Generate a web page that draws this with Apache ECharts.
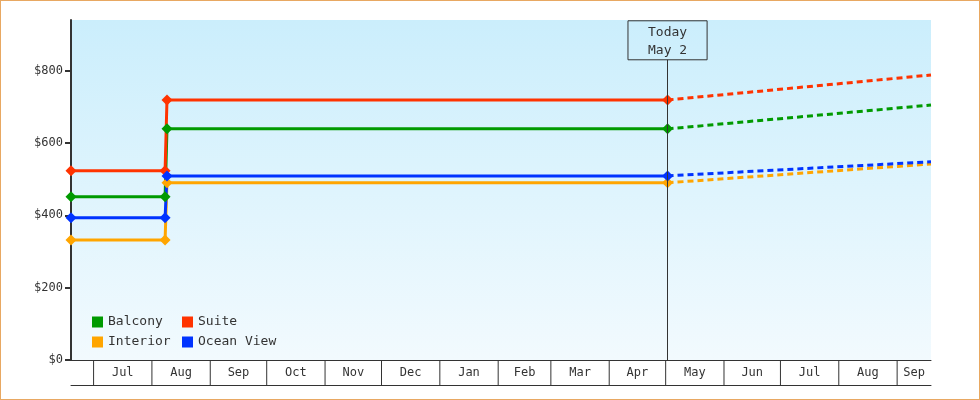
<!DOCTYPE html>
<html>
<head>
<meta charset="utf-8">
<script src="https://cdn.jsdelivr.net/npm/echarts@6/dist/echarts.min.js"></script>
<style>
  html, body { margin: 0; padding: 0; background: #fff; }
  #frame { width: 980px; height: 400px; box-sizing: border-box; border: 1px solid #e8a862; }
  #chart { width: 978px; height: 398px; }
</style>
</head>
<body>
<div id="frame"><div id="chart"></div></div>
<script>
// price history (step changes) and forecast
let dates = ["2024-06-19", "2024-08-08", "2024-08-09", "2025-05-02"];
let balcony = [451, 451, 639, 639];
let interior = [332, 332, 490, 490];
let suite = [523, 523, 719, 719];
let oceanView = [393, 393, 509, 509];

let forecastDates = ["2025-05-02", "2025-09-19"];
let balconyForecast = [639, 705];
let interiorForecast = [490, 542];
let suiteForecast = [719, 788];
let oceanViewForecast = [509, 548];

let today = "2025-05-02";
let todayLabel = "Today\nMay 2";
let axisStart = "2024-06-19";
let axisEnd = "2025-09-19";
let monthLabels = ["Jul", "Aug", "Sep", "Oct", "Nov", "Dec", "Jan", "Feb", "Mar", "Apr", "May", "Jun", "Jul", "Aug", "Sep"];
let yTicks = [0, 200, 400, 600, 800];

let font = "DejaVu Sans Mono";
let colors = {Balcony: "#009a00", Interior: "#ffa500", Suite: "#ff3300", "Ocean View": "#0033ff"};

function ts(s){
    let p = s.split("-");
    return new Date(+p[0], +p[1] - 1, +p[2]).getTime();
}
function pairs(xs, ys){
    return xs.map((d, i) => [ts(d), ys[i]]);
}

let minT = ts(axisStart), maxT = ts(axisEnd);
// month cells under the x axis: [start, end, y, label index]
let monthCells = monthLabels.map((m, i) => [
    new Date(2024, 6 + i, 1).getTime(),
    Math.min(new Date(2024, 7 + i, 1).getTime(), maxT),
    0,
    i
]);

let myChar = echarts.init(document.getElementById("chart"));

function actual(name, ys){
    return {
        name: name,
        type: "line",
        data: pairs(dates, ys),
        color: colors[name],
        symbol: "diamond",
        symbolSize: 11,
        lineStyle: {width: 3},
        z: 3
    };
}
function forecast(name, ys){
    return {
        name: name,
        type: "line",
        data: pairs(forecastDates, ys),
        color: colors[name],
        showSymbol: false,
        lineStyle: {width: 3, type: [6, 4]},
        z: 2
    };
}

let seriesList = [
    actual("Balcony", balcony),
    actual("Interior", interior),
    actual("Suite", suite),
    actual("Ocean View", oceanView),
    forecast("Balcony", balconyForecast),
    forecast("Interior", interiorForecast),
    forecast("Suite", suiteForecast),
    forecast("Ocean View", oceanViewForecast)
];
seriesList[0].markLine = {
    silent: true,
    symbol: "none",
    lineStyle: {color: "#333", width: 1, type: "solid"},
    label: {
        show: true,
        position: "end",
        distance: 0,
        formatter: todayLabel,
        color: "#333",
        fontFamily: font,
        fontSize: 13,
        lineHeight: 18,
        padding: [3, 20, 0, 20],
        borderColor: "#333",
        borderWidth: 1
    },
    data: [[{coord: [ts(today), 0]}, {coord: [ts(today), 830]}]]
};

// month separators and labels in the band below the plot
seriesList.push({
    type: "custom",
    silent: true,
    clip: false,
    data: monthCells,
    encode: {x: [0, 1], y: 2},
    renderItem: (params, api) => {
        let a = api.coord([api.value(0), 0]);
        let b = api.coord([api.value(1), 0]);
        return {
            type: "group",
            children: [
                {
                    type: "line",
                    shape: {x1: a[0], y1: a[1], x2: a[0], y2: a[1] + 25},
                    style: {stroke: "#333", lineWidth: 1}
                },
                {
                    type: "text",
                    x: (a[0] + b[0]) / 2,
                    y: a[1] + 13,
                    style: {
                        text: monthLabels[api.value(3)],
                        fill: "#333",
                        font: "12px " + font,
                        align: "center",
                        verticalAlign: "middle"
                    }
                }
            ]
        };
    }
});

let legendBase = {
    orient: "vertical",
    top: 313,
    padding: 0,
    icon: "rect",
    itemWidth: 11,
    itemHeight: 11,
    itemGap: 4,
    textStyle: {color: "#333", fontFamily: font, fontSize: 13, lineHeight: 16}
};

myChar.setOption({
    animation: false,
    textStyle: {fontFamily: font},
    grid: {
        left: 70, top: 19, right: 48, bottom: 39,
        show: true,
        borderWidth: 0,
        backgroundColor: new echarts.graphic.LinearGradient(0, 0, 0, 1, [
            {offset: 0, color: "#cbeefc"},
            {offset: 1, color: "#f2fafe"}
        ])
    },
    legend: [
        Object.assign({}, legendBase, {left: 91, data: ["Balcony", "Interior"]}),
        Object.assign({}, legendBase, {left: 181, data: ["Suite", "Ocean View"]})
    ],
    xAxis: [
        {
            type: "time",
            min: minT,
            max: maxT,
            axisLine: {show: true, lineStyle: {color: "#333", width: 1}},
            axisTick: {show: false},
            axisLabel: {show: false},
            splitLine: {show: false}
        },
        {
            type: "time",
            min: minT,
            max: maxT,
            position: "bottom",
            offset: 25,
            axisLine: {show: true, lineStyle: {color: "#333", width: 1}},
            axisTick: {show: false},
            axisLabel: {show: false},
            splitLine: {show: false}
        }
    ],
    yAxis: {
        type: "value",
        min: 0,
        max: 940,
        interval: 200,
        axisLine: {show: true, lineStyle: {color: "#333", width: 2}},
        axisTick: {show: true, customValues: yTicks, length: 6, lineStyle: {color: "#333", width: 2}},
        axisLabel: {
            customValues: yTicks,
            formatter: (v) => "$" + v,
            color: "#333",
            fontFamily: font,
            fontSize: 12,
            margin: 8
        },
        splitLine: {show: false}
    },
    series: seriesList
});
</script>
</body>
</html>
